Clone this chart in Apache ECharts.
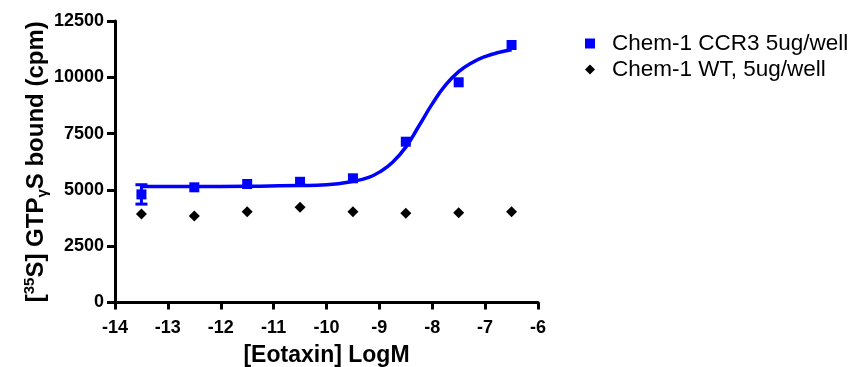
<!DOCTYPE html>
<html>
<head>
<meta charset="utf-8">
<script src="https://cdn.jsdelivr.net/npm/echarts@6/dist/echarts.min.js"></script>
<style>html,body{margin:0;padding:0;background:#fff}#c{width:857px;height:367px}</style>
</head>
<body>
<div id="c"></div>
<script>
// Data
var logConc = [-13.5, -12.5, -11.5, -10.5, -9.5, -8.5, -7.5, -6.5];
var ccr3 = [4800, 5115, 5262, 5360, 5515, 7140, 9778, 11434];
var ccr3Err = [430, 0, 0, 0, 0, 0, 0, 0];
var wt = [3930, 3841, 4032, 4227, 4032, 3961, 3988, 4032];
// fitted curve
var fitX = [-13.5, -12.5, -11.5, -10.5, -10.0, -9.5, -9.2, -9.0, -8.75, -8.5, -8.25, -8.0, -7.75, -7.5, -7.25, -7.0, -6.75, -6.5];
var fitY = [5150, 5150, 5160, 5190, 5230, 5380, 5560, 5790, 6230, 6900, 7850, 8820, 9650, 10250, 10650, 10920, 11100, 11220];
var xTicks = [-14, -6, 1];
var yTicks = [0, 12500, 2500];

var FONT = '"Liberation Sans", Arial, sans-serif';
var chart = echarts.init(document.getElementById('c'));

function pairs(xs, ys) { return xs.map(function (x, i) { return [x, ys[i]]; }); }

var errData = logConc.map(function (x, i) { return [x, ccr3[i] - ccr3Err[i], ccr3[i] + ccr3Err[i]]; })
  .filter(function (d, i) { return ccr3Err[i] > 0; });

chart.setOption({
  animation: false,
  grid: { left: 115, right: 319, top: 21, bottom: 64.5, containLabel: false, outerBoundsMode: 'none' },
  legend: {
    orient: 'vertical', left: 580, top: 27, itemWidth: 10, itemHeight: 10, itemGap: 3,
    data: ['Chem-1 CCR3 5ug/well', 'Chem-1 WT, 5ug/well'],
    textStyle: { fontFamily: FONT, fontSize: 22.5, color: '#000', padding: [0, 0, 0, 12] }
  },
  xAxis: {
    type: 'value', min: xTicks[0], max: xTicks[1], interval: xTicks[2],
    name: '[Eotaxin] LogM', nameLocation: 'middle', nameGap: 42,
    nameTextStyle: { fontFamily: FONT, fontSize: 23, fontWeight: 'bold', color: '#000' },
    axisLine: { onZero: false, lineStyle: { color: '#000', width: 3 } },
    axisTick: { length: 7, lineStyle: { color: '#000', width: 3 } },
    axisLabel: { margin: 17, fontFamily: FONT, fontSize: 18, fontWeight: 'bold', color: '#000' },
    splitLine: { show: false }
  },
  yAxis: {
    type: 'value', min: yTicks[0], max: yTicks[1], interval: yTicks[2],
    name: '{b|[}{sup|35}{b|S] GTP}{sub|γ}{b|S bound (cpm)}',
    nameLocation: 'middle', nameGap: 62, nameRotate: 90,
    nameTextStyle: {
      fontFamily: FONT, fontSize: 24, fontWeight: 'bold', color: '#000',
      rich: {
        b: { fontFamily: FONT, fontSize: 24, fontWeight: 'bold', color: '#000', lineHeight: 28, verticalAlign: 'middle' },
        sup: { fontFamily: FONT, fontSize: 15, fontWeight: 'bold', color: '#000', lineHeight: 28, verticalAlign: 'top' },
        sub: { fontFamily: FONT, fontSize: 15, fontWeight: 'bold', color: '#000', lineHeight: 28, verticalAlign: 'bottom' }
      }
    },
    axisLine: { show: true, onZero: false, lineStyle: { color: '#000', width: 3 } },
    axisTick: { show: true, length: 8, lineStyle: { color: '#000', width: 3 } },
    axisLabel: {
      margin: 11, fontFamily: FONT, fontSize: 18, fontWeight: 'bold', color: '#000',
      formatter: function (v) { return String(v); }
    },
    splitLine: { show: false }
  },
  series: [
    {
      name: 'fit', type: 'line', data: pairs(fitX, fitY), smooth: true, showSymbol: false,
      lineStyle: { color: '#0000ff', width: 3.5 }, z: 2, silent: true
    },
    {
      name: 'err', type: 'custom', data: errData, z: 3,
      renderItem: function (params, api) {
        var x = api.value(0);
        var lo = api.coord([x, api.value(1)]);
        var hi = api.coord([x, api.value(2)]);
        var w = 6;
        var st = { stroke: '#0000ff', lineWidth: 3 };
        return {
          type: 'group', children: [
            { type: 'line', shape: { x1: lo[0], y1: lo[1], x2: hi[0], y2: hi[1] }, style: st },
            { type: 'line', shape: { x1: lo[0] - w, y1: lo[1], x2: lo[0] + w, y2: lo[1] }, style: st },
            { type: 'line', shape: { x1: hi[0] - w, y1: hi[1], x2: hi[0] + w, y2: hi[1] }, style: st }
          ]
        };
      }
    },
    {
      name: 'Chem-1 CCR3 5ug/well', type: 'scatter', data: pairs(logConc, ccr3),
      symbol: 'rect', symbolSize: 10, itemStyle: { color: '#0000ff', opacity: 1 }, z: 4
    },
    {
      name: 'Chem-1 WT, 5ug/well', type: 'scatter', data: pairs(logConc, wt),
      symbol: 'diamond', symbolSize: 11, itemStyle: { color: '#000', opacity: 1 }, z: 4
    }
  ]
});
</script>
</body>
</html>
